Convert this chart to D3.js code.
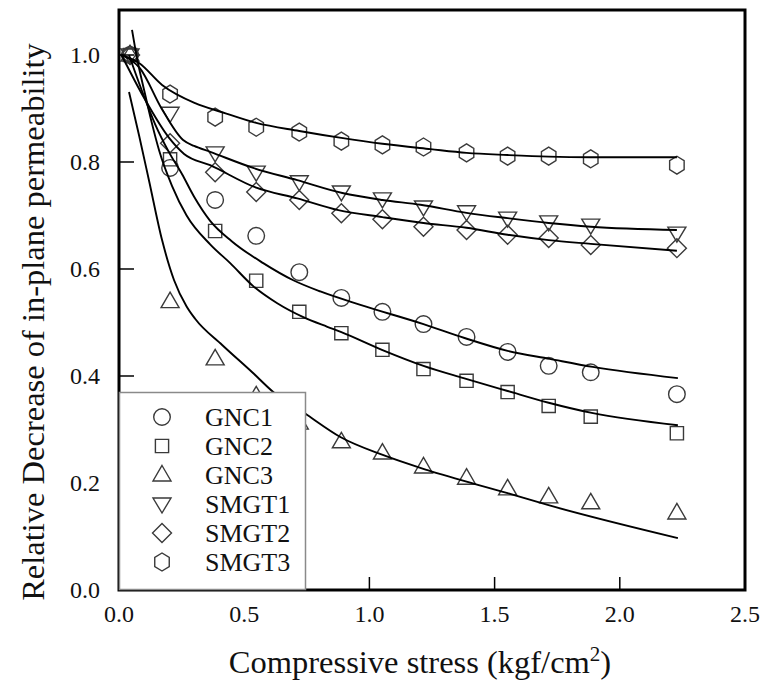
<!DOCTYPE html>
<html>
<head>
<meta charset="utf-8">
<script src="https://cdn.jsdelivr.net/npm/d3@7/dist/d3.min.js"></script>
<style>
  html, body { margin: 0; padding: 0; background: #fff; }
  svg { display: block; }
</style>
</head>
<body>
<svg id="chart" width="765" height="687"></svg>
<script>
// ---------------- data ----------------
const seriesNames = ["GNC1", "GNC2", "GNC3", "SMGT1", "SMGT2", "SMGT3"];
const stress = [0.044, 0.204, 0.384, 0.548, 0.72, 0.888, 1.052, 1.216, 1.388, 1.552, 1.716, 1.884, 2.228];

const gnc1  = [1.0, 0.789, 0.729, 0.662, 0.594, 0.546, 0.520, 0.497, 0.473, 0.445, 0.419, 0.407, 0.366];
const gnc2  = [1.0, 0.805, 0.671, 0.578, 0.520, 0.480, 0.449, 0.413, 0.391, 0.370, 0.344, 0.324, 0.293];
const gnc3  = [1.0, 0.539, 0.432, 0.363, 0.312, 0.277, 0.256, 0.230, 0.209, 0.189, 0.174, 0.163, 0.144];
const smgt1 = [1.0, 0.891, 0.817, 0.781, 0.763, 0.744, 0.731, 0.716, 0.707, 0.695, 0.688, 0.682, 0.667];
const smgt2 = [1.0, 0.835, 0.781, 0.744, 0.729, 0.704, 0.693, 0.679, 0.673, 0.664, 0.658, 0.645, 0.639];
const smgt3 = [1.0, 0.927, 0.884, 0.865, 0.856, 0.839, 0.832, 0.828, 0.817, 0.811, 0.811, 0.806, 0.794];

// fitted curves [stress, value]
const fitGnc1 = [[0.04,1.0],[0.09,0.935],[0.144,0.871],[0.2,0.818],[0.252,0.777],[0.30,0.735],[0.364,0.69],[0.45,0.652],[0.576,0.611],[0.696,0.579],[0.804,0.558],[0.964,0.533],[1.216,0.497],[1.38,0.471],[1.552,0.447],[1.72,0.432],[1.892,0.417],[2.232,0.396]];
const fitGnc2 = [[0.052,1.047],[0.072,0.994],[0.10,0.935],[0.13,0.875],[0.16,0.822],[0.212,0.755],[0.27,0.70],[0.364,0.646],[0.444,0.611],[0.536,0.568],[0.632,0.536],[0.736,0.510],[0.832,0.492],[0.888,0.482],[1.05,0.449],[1.216,0.419],[1.376,0.396],[1.552,0.372],[1.716,0.350],[1.888,0.331],[2.232,0.308]];
const fitGnc3 = [[0.04,0.931],[0.08,0.85],[0.12,0.765],[0.172,0.654],[0.22,0.579],[0.27,0.530],[0.304,0.507],[0.412,0.458],[0.532,0.407],[0.616,0.370],[0.752,0.327],[0.884,0.286],[1.056,0.252],[1.232,0.224],[1.552,0.181],[1.712,0.159],[2.232,0.097]];
const fitSmgt1 = [[0.01,1.0],[0.084,0.975],[0.17,0.9],[0.256,0.841],[0.30,0.830],[0.364,0.819],[0.536,0.789],[0.712,0.766],[0.892,0.742],[1.052,0.729],[1.204,0.720],[1.388,0.705],[1.552,0.695],[1.716,0.686],[1.884,0.679],[2.228,0.673]];
const fitSmgt2 = [[0.01,1.0],[0.1,0.92],[0.2,0.845],[0.26,0.815],[0.364,0.794],[0.548,0.752],[0.712,0.732],[0.876,0.710],[1.052,0.697],[1.216,0.686],[1.388,0.677],[1.552,0.664],[1.716,0.654],[1.884,0.647],[2.228,0.634]];
const fitSmgt3 = [[0.01,1.0],[0.08,0.985],[0.172,0.944],[0.304,0.910],[0.412,0.893],[0.548,0.873],[0.72,0.858],[0.888,0.845],[1.052,0.834],[1.244,0.824],[1.388,0.817],[1.552,0.813],[1.716,0.810],[1.884,0.809],[2.228,0.809]];

const xTicks = [0.0, 0.5, 1.0, 1.5, 2.0, 2.5];
const yTicks = [0.0, 0.2, 0.4, 0.6, 0.8, 1.0];
const xTitle = "Compressive stress (kgf/cm";
const yTitle = "Relative Decrease of in-plane permeability";

// ---------------- layout ----------------
const FONT = "'Liberation Serif', 'Times New Roman', Times, serif";
const svg = d3.select("#chart").attr("font-family", FONT);
const L = 119, R = 745, T = 10, B = 590;
const x = d3.scaleLinear().domain([0, 2.5]).range([L, R]);
const y = d3.scaleLinear().domain([0, 1.0841]).range([B, T]);

const markerStroke = "#3a3a3a";

function symPath(kind) {
  switch (kind) {
    case "circle": return "M8.3,0A8.3,8.3,0,1,1,-8.3,0A8.3,8.3,0,1,1,8.3,0Z";
    case "square": return "M-6.6,-6.6H6.6V6.6H-6.6Z";
    case "tri": return "M0,-9.5L9,6L-9,6Z";
    case "tridown": return "M-9,-6L9,-6L0,9Z";
    case "diamond": return "M0,-9.5L9.5,0L0,9.5L-9.5,0Z";
    case "hex": {
      const r = 9;
      const pts = d3.range(6).map(i => {
        const a = Math.PI / 2 + i * Math.PI / 3;
        return [r * 0.93 * Math.cos(a), r * Math.sin(a)];
      });
      return "M" + pts.map(p => p[0].toFixed(2) + "," + p[1].toFixed(2)).join("L") + "Z";
    }
  }
}

const series = [
  { name: seriesNames[0], vals: gnc1,  fit: fitGnc1,  kind: "circle" },
  { name: seriesNames[1], vals: gnc2,  fit: fitGnc2,  kind: "square" },
  { name: seriesNames[2], vals: gnc3,  fit: fitGnc3,  kind: "tri" },
  { name: seriesNames[3], vals: smgt1, fit: fitSmgt1, kind: "tridown" },
  { name: seriesNames[4], vals: smgt2, fit: fitSmgt2, kind: "diamond" },
  { name: seriesNames[5], vals: smgt3, fit: fitSmgt3, kind: "hex" }
];

// ---------------- plot ----------------
const plot = svg.append("g");

series.forEach(s => {
  plot.append("g").selectAll("path")
    .data(s.vals.map((v, i) => [stress[i], v]))
    .join("path")
    .attr("d", symPath(s.kind))
    .attr("transform", d => `translate(${x(d[0])},${y(d[1])})`)
    .attr("fill", "none")
    .attr("stroke", markerStroke)
    .attr("stroke-width", 1.4);
});

const line = d3.line().x(d => x(d[0])).y(d => y(d[1])).curve(d3.curveMonotoneX);
series.forEach(s => {
  plot.append("path")
    .attr("d", line(s.fit))
    .attr("fill", "none")
    .attr("stroke", "#000")
    .attr("stroke-width", 1.9);
});

// ticks (inward)
svg.append("g").selectAll("line")
  .data(yTicks.filter(t => t > 0))
  .join("line")
  .attr("x1", L).attr("x2", L + 15)
  .attr("y1", d => y(d)).attr("y2", d => y(d))
  .attr("stroke", "#000").attr("stroke-width", 1.5);
svg.append("g").selectAll("line")
  .data(xTicks.filter(t => t > 0 && t < 2.5))
  .join("line")
  .attr("y1", B).attr("y2", B - 13)
  .attr("x1", d => x(d)).attr("x2", d => x(d))
  .attr("stroke", "#000").attr("stroke-width", 1.5);

// frame
svg.append("rect")
  .attr("x", L).attr("y", T).attr("width", R - L).attr("height", B - T)
  .attr("fill", "none").attr("stroke", "#000").attr("stroke-width", 3);

// tick labels
svg.append("g").selectAll("text")
  .data(yTicks)
  .join("text")
  .attr("x", 100).attr("y", d => y(d) + 8)
  .attr("text-anchor", "end")
  .attr("font-size", 24).attr("fill", "#111")
  .text(d => d3.format(".1f")(d));
svg.append("g").selectAll("text")
  .data(xTicks)
  .join("text")
  .attr("x", d => x(d)).attr("y", 622)
  .attr("text-anchor", "middle")
  .attr("font-size", 24).attr("fill", "#111")
  .text(d => d3.format(".1f")(d));

// axis titles
const xt = svg.append("text")
  .attr("x", 420).attr("y", 673)
  .attr("text-anchor", "middle")
  .attr("font-size", 32.5).attr("fill", "#111");
xt.append("tspan").text(xTitle);
xt.append("tspan").attr("font-size", 21).attr("dy", -12).text("2");
xt.append("tspan").attr("dy", 12).text(")");

svg.append("text")
  .attr("transform", "translate(44,322) rotate(-90)")
  .attr("text-anchor", "middle")
  .attr("font-size", 32.5).attr("fill", "#111")
  .text(yTitle);

// ---------------- legend ----------------
const lg = svg.append("g");
lg.append("rect")
  .attr("x", 119.5).attr("y", 392.5).attr("width", 186).attr("height", 197)
  .attr("fill", "#fff").attr("stroke", "#8a8a8a").attr("stroke-width", 1.5);
const rowY = d3.scaleLinear().domain([0, 5]).range([417, 562]);
series.forEach((s, i) => {
  lg.append("path")
    .attr("d", symPath(s.kind))
    .attr("transform", `translate(162,${rowY(i)})`)
    .attr("fill", "none").attr("stroke", markerStroke).attr("stroke-width", 1.4);
  lg.append("text")
    .attr("x", 205).attr("y", rowY(i) + 9)
    .attr("font-size", 26).attr("fill", "#111")
    .text(s.name);
});
</script>
</body>
</html>
